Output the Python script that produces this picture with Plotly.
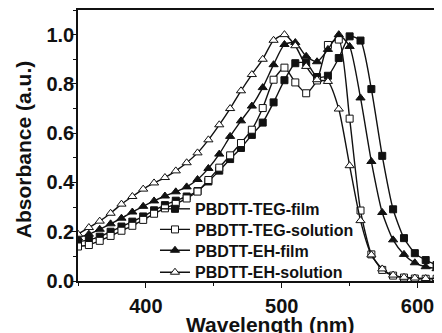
import plotly.graph_objects as go

wavelength = [350, 358, 366, 374, 382, 390, 398, 406, 414, 422, 430, 438, 446, 454, 462, 470,
              478, 486, 494, 502, 510, 518, 526, 534, 542, 550, 558, 566, 574, 582, 590, 598, 606, 614]

teg_film = [0.160, 0.167, 0.180, 0.200, 0.221, 0.241, 0.262, 0.287, 0.308, 0.326, 0.343, 0.365,
            0.404, 0.448, 0.495, 0.540, 0.593, 0.643, 0.725, 0.815, 0.884, 0.885, 0.828, 0.833,
            0.905, 0.993, 0.976, 0.779, 0.508, 0.291, 0.174, 0.113, 0.085, 0.065]

teg_solution = [0.140, 0.146, 0.163, 0.183, 0.204, 0.224, 0.248, 0.273, 0.295, 0.313, 0.335, 0.363,
                0.410, 0.460, 0.510, 0.560, 0.614, 0.702, 0.817, 0.866, 0.806, 0.762, 0.814, 0.958,
                0.980, 0.659, 0.286, 0.108, 0.045, 0.022, 0.014, 0.010, 0.009, 0.009]

eh_film = [0.175, 0.190, 0.210, 0.232, 0.255, 0.280, 0.303, 0.325, 0.345, 0.362, 0.382, 0.412,
           0.457, 0.515, 0.587, 0.650, 0.710, 0.785, 0.878, 0.960, 0.968, 0.912, 0.890, 0.940,
           1.000, 0.952, 0.743, 0.485, 0.278, 0.167, 0.108, 0.074, 0.058, 0.050]

eh_solution = [0.190, 0.217, 0.243, 0.275, 0.312, 0.343, 0.373, 0.398, 0.420, 0.447, 0.480, 0.520,
               0.573, 0.634, 0.700, 0.772, 0.838, 0.900, 0.977, 1.000, 0.955, 0.871, 0.817, 0.810,
               0.698, 0.468, 0.245, 0.106, 0.049, 0.024, 0.015, 0.012, 0.010, 0.010]

series_names = ["PBDTT-TEG-film", "PBDTT-TEG-solution", "PBDTT-EH-film", "PBDTT-EH-solution"]
x_ticks = [400, 500, 600]
y_ticks = [0.0, 0.2, 0.4, 0.6, 0.8, 1.0]

FONT = "Liberation Sans, Arial, Helvetica, sans-serif"
INK = "#111111"

styles = [
    dict(symbol="square", color=INK, size=7),
    dict(symbol="square", color="white", size=7),
    dict(symbol="triangle-up", color=INK, size=8),
    dict(symbol="triangle-up", color="white", size=8),
]
legend_ids = ["legend", "legend2", "legend3", "legend4"]
legend_rows = [0.266, 0.190, 0.113, 0.032]

fig = go.Figure()
for name, ys, st, lg in zip(series_names, [teg_film, teg_solution, eh_film, eh_solution], styles, legend_ids):
    fig.add_trace(go.Scatter(
        x=wavelength, y=ys, name=name, mode="lines+markers", legend=lg,
        line=dict(color=INK, width=1.4, shape="spline", smoothing=0.6),
        marker=dict(symbol=st["symbol"], size=st["size"], color=st["color"],
                    line=dict(color=INK, width=1)),
    ))

axis_common = dict(
    showline=True, linecolor=INK, linewidth=1.5, showgrid=False, zeroline=False,
    ticks="outside", ticklen=5, tickwidth=1.2, tickcolor=INK,
    tickfont=dict(family=FONT, size=20, color=INK, weight="bold"),
)

fig.update_xaxes(
    range=[350, 618], tickvals=x_ticks, ticktext=[str(v) for v in x_ticks],
    mirror=True,
    minor=dict(dtick=50, tick0=0, ticks="outside", ticklen=3, tickcolor=INK),
    ticklabelstandoff=1,
    **axis_common,
)
fig.update_yaxes(
    range=[0, 1.1], tickvals=y_ticks, ticktext=[f"{v:.1f}" for v in y_ticks],
    minor=dict(dtick=0.1, tick0=0, ticks="outside", ticklen=3, tickcolor=INK),
    ticklabelstandoff=-7,
    **axis_common,
)

legend_style = dict(
    x=0.2115, xanchor="left", yanchor="middle",
    bgcolor="rgba(0,0,0,0)", borderwidth=0,
    font=dict(family=FONT, size=16, color=INK, weight="bold"),
    itemwidth=30,
)
legend_layout = {lg: dict(y=yy, **legend_style) for lg, yy in zip(legend_ids, legend_rows)}

# the page body keeps its default 8px margin, so the figure is 8px smaller
fig.update_layout(
    width=434, height=325,
    margin=dict(l=70, r=0, t=2, b=52),
    paper_bgcolor="white", plot_bgcolor="white",
    showlegend=True,
    annotations=[
        dict(text="Wavelength (nm)", xref="paper", yref="paper", x=0.527, y=-0.159,
             xanchor="center", yanchor="middle", showarrow=False,
             font=dict(family=FONT, size=21, color=INK, weight="bold")),
        dict(text="Absorbance (a.u.)", xref="paper", yref="paper", x=-0.151, y=0.483,
             xanchor="center", yanchor="middle", showarrow=False, textangle=-90,
             font=dict(family=FONT, size=21, color=INK, weight="bold")),
    ],
    **legend_layout,
)

fig.write_html("out.html")
